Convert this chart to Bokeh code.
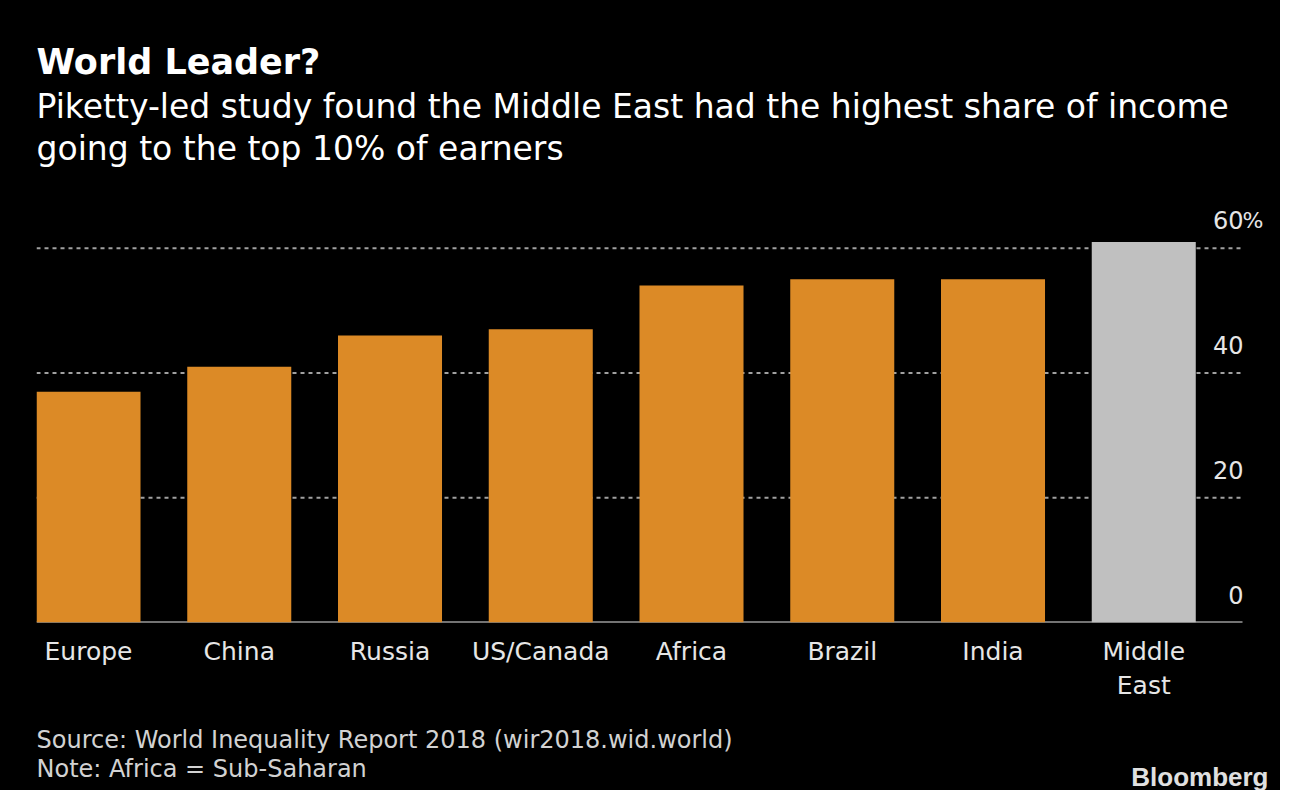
from bokeh.plotting import figure
from bokeh.layouts import column
from bokeh.models import Range1d, FixedTicker, ColumnDataSource
from bokeh.core.properties import value
from bokeh.embed import file_html
from bokeh.resources import INLINE

# ---- data ----
categories = ["Europe", "China", "Russia", "US/Canada", "Africa", "Brazil", "India", "Middle\nEast"]
top10_share = [37, 41, 46, 47, 54, 55, 55, 61]
highlight = [False, False, False, False, False, False, False, True]
y_ticks = [0, 20, 40, 60]
y_tick_labels = ["0", "20", "40", "60"]
title_text = "World Leader?"
subtitle_lines = ["Piketty-led study found the Middle East had the highest share of income",
                  "going to the top 10% of earners"]
source_lines = ["Source: World Inequality Report 2018 (wir2018.wid.world)",
                "Note: Africa = Sub-Saharan"]
logo_text = "Bloomberg"

ORANGE = "#dc8a26"
GREY_BAR = "#c0c0c0"
BG = "#000000"
FONT = "DejaVu Sans"
W = 1280
HEAD_H = 204
MAIN_H = 508
FOOT_H = 78
LEFT = 36
PLOT_W = 1206  # width of the 8 category slots
BLACK_CSS = {"background-color": BG}


def text_fig(height, top):
    f = figure(width=W, height=height, output_backend="svg", toolbar_location=None,
               x_range=Range1d(LEFT, W), y_range=Range1d(top + height, top),
               x_axis_type=None, y_axis_type=None,
               min_border_left=LEFT, min_border_right=0, min_border_top=0, min_border_bottom=0,
               background_fill_color=BG, border_fill_color=BG, outline_line_color=None,
               styles=BLACK_CSS)
    f.grid.visible = False
    return f


# ---- header ----
head = text_fig(HEAD_H, 0)
head.text(x=[LEFT], y=[61], text=[title_text], text_font=value(FONT), text_font_style="bold",
          text_font_size="35px", text_color="#ffffff", text_baseline="alphabetic")
head.text(x=[LEFT] * len(subtitle_lines), y=[106 + 42 * i for i in range(len(subtitle_lines))],
          text=subtitle_lines, text_font=value(FONT), text_font_size="33px",
          text_color="#ffffff", text_baseline="alphabetic")

# ---- main chart ----
n = len(categories)
bar_w = 0.69
xs = [i + bar_w / 2 for i in range(n)]
colors = [GREY_BAR if h else ORANGE for h in highlight]
src = ColumnDataSource(dict(x=xs, top=top10_share, color=colors))

x_end = n * (W - LEFT) / PLOT_W
p = figure(width=W, height=MAIN_H, output_backend="svg", toolbar_location=None,
           x_range=Range1d(0, x_end), y_range=Range1d(0, 67),
           min_border_left=LEFT, min_border_right=0, min_border_top=0, min_border_bottom=90,
           background_fill_color=BG, border_fill_color=BG, outline_line_color=None,
           styles=BLACK_CSS)
p.yaxis.visible = False
p.grid.visible = False

# dotted gridlines and baseline spanning the category slots
gy = y_ticks[1:]
p.segment(x0=[0] * len(gy), x1=[n] * len(gy), y0=gy, y1=gy,
          line_color="#a0a0a0", line_dash="4 4", line_width=2)
p.segment(x0=[0], x1=[n], y0=[0], y1=[0], line_color="#e6e6e6", line_width=2)
p.vbar(x="x", top="top", bottom=0, width=bar_w, color="color", source=src, line_color=None)

xa = p.xaxis[0]
xa.ticker = FixedTicker(ticks=xs)
xa.major_label_overrides = {x: c for x, c in zip(xs, categories)}
xa.major_label_text_font = FONT
xa.major_label_text_font_size = "25px"
xa.major_label_text_color = "#e6e6e6"
xa.major_label_standoff = 8
xa.major_tick_line_color = None
xa.minor_tick_line_color = None
xa.axis_line_color = None

# y tick labels (Bloomberg style: above the gridline, at right)
p.text(x=[n] * len(y_ticks), y=y_ticks, text=y_tick_labels, text_align="right",
       text_baseline="alphabetic", y_offset=-28, x_offset=1,
       text_font=value(FONT), text_font_size="24px", text_color="#e6e6e6")
p.text(x=[n], y=[y_ticks[-1]], text=["%"], text_align="left",
       text_baseline="alphabetic", y_offset=-28, x_offset=0,
       text_font=value(FONT), text_font_size="22px", text_color="#e6e6e6")

# ---- footer ----
foot = text_fig(FOOT_H, HEAD_H + MAIN_H)
foot.text(x=[LEFT] * len(source_lines), y=[739 + 29 * i for i in range(len(source_lines))],
          text=source_lines, text_font=value(FONT), text_font_size="24px",
          text_color="#d2d2d2", text_baseline="alphabetic")
foot.text(x=[1268], y=[776], text=[logo_text], text_font=value("Liberation Sans"),
          text_font_style="bold", text_font_size="26px", text_color="#e0e0e0",
          text_baseline="alphabetic", text_align="right")

layout = column(head, p, foot, spacing=0, styles=BLACK_CSS)
open("out.html", "w").write(file_html(layout, INLINE))
